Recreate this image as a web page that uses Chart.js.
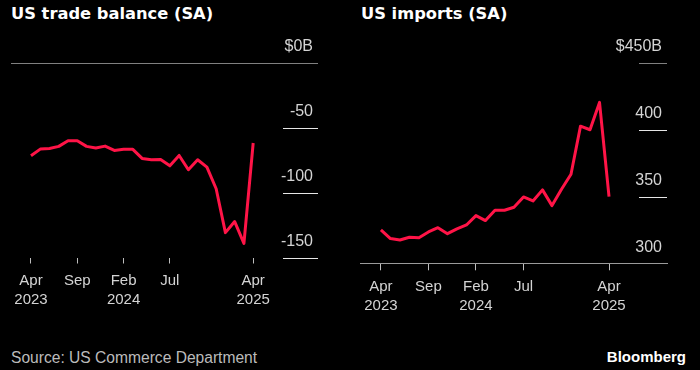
<!DOCTYPE html>
<html>
<head>
<meta charset="utf-8">
<script src="https://cdn.jsdelivr.net/npm/chart.js@4/dist/chart.umd.min.js"></script>
<style>
  body { margin: 0; background: #000; width: 700px; height: 370px; overflow: hidden; position: relative; }
  canvas { position: absolute; top: 0; }
  .title { position: absolute; top: 4px; color: #fff; font: bold 16.3px "DejaVu Sans"; line-height: 20px; }
  .src { position: absolute; left: 11px; top: 349px; color: #bbb; font: 15.6px "Liberation Sans"; line-height: 18px; }
  .brand { position: absolute; right: 14px; top: 348px; color: #fff; font: bold 15px "Liberation Sans"; line-height: 18px; }
</style>
</head>
<body>
<div class="title" style="left:11px">US trade balance (SA)</div>
<div class="title" style="left:361px">US imports (SA)</div>
<canvas id="balanceChart" width="350" height="330" style="left:0"></canvas>
<canvas id="importsChart" width="350" height="330" style="left:350px"></canvas>
<div class="src">Source: US Commerce Department</div>
<div class="brand">Bloomberg</div>
<script>
// Monthly, Apr 2023 .. Apr 2025
const months = ['2023-04','2023-05','2023-06','2023-07','2023-08','2023-09','2023-10','2023-11','2023-12',
  '2024-01','2024-02','2024-03','2024-04','2024-05','2024-06','2024-07','2024-08','2024-09','2024-10','2024-11','2024-12',
  '2025-01','2025-02','2025-03','2025-04'];

// $B, seasonally adjusted
const tradeBalance = [-71.5, -66.4, -65.9, -64.3, -59.9, -59.9, -64.3, -65.6, -64.1, -67.4, -66.6, -66.6,
  -73.6, -74.6, -74.4, -79.3, -71.3, -82.3, -74.6, -80.3, -97.0, -130.8, -122.3, -139.1, -61.7];
const imports = [325.0, 318.5, 317.5, 319.5, 319.2, 323.5, 326.7, 322.2, 325.8, 328.7, 335.7, 332.0,
  339.7, 339.7, 342.0, 349.7, 346.7, 355.0, 343.2, 355.5, 366.7, 402.7, 400.0, 420.5, 350.0];

// x tick positions (month index) and their labels
const tickMonths = [0, 5, 10, 15, 24];
const tickLabels = [['Apr', '2023'], ['Sep'], ['Feb', '2024'], ['Jul'], ['Apr', '2025']];

const balanceTicks = [-150, -100, -50, 0];
const importsTicks = [300, 350, 400, 450];

const RED = '#ff1447';
const LABEL = '#d4d4d4';

Chart.defaults.font.family = '"Liberation Sans", Arial, sans-serif';
Chart.defaults.font.size = 15;
Chart.defaults.color = LABEL;

// short gridline stubs at the right edge, Bloomberg style
const shortGrid = {
  id: 'shortGrid',
  beforeDatasetsDraw(chart, args, opts) {
    const s = chart.scales.y;
    const { right } = chart.chartArea;
    const ctx = chart.ctx;
    ctx.save();
    ctx.lineWidth = 1;
    s.ticks.forEach(t => {
      if (opts.skip.includes(t.value)) return;
      const y = Math.round(s.getPixelForValue(t.value)) + 0.5;
      ctx.strokeStyle = t.value === s.max ? '#808080' : '#e6e6e6';
      ctx.beginPath();
      ctx.moveTo(right - opts.len, y);
      ctx.lineTo(right, y);
      ctx.stroke();
    });
    ctx.restore();
  }
};

function makeChart(id, values, cfg) {
  return new Chart(document.getElementById(id), {
    type: 'line',
    data: {
      datasets: [{
        data: values.map((v, i) => ({ x: i, y: v })),
        borderColor: RED,
        borderWidth: 3,
        borderJoinStyle: 'round',
        pointRadius: 0,
        tension: 0
      }]
    },
    options: {
      responsive: false,
      animation: false,
      layout: { padding: cfg.padding },
      plugins: {
        legend: { display: false },
        tooltip: { enabled: false },
        shortGrid: { len: cfg.stub, skip: cfg.full }
      },
      scales: {
        x: {
          type: 'linear',
          min: cfg.xMin,
          max: cfg.xMax,
          afterFit: s => { s.height = cfg.xHeight; },
          afterBuildTicks: s => { s.ticks = tickMonths.map(v => ({ value: v })); },
          grid: { drawOnChartArea: false, drawTicks: true, tickLength: cfg.tickLen, color: '#bdbdbd' },
          border: { display: cfg.axisLine, color: '#9a9a9a' },
          ticks: {
            autoSkip: false, maxRotation: 0, padding: cfg.tickPad, color: LABEL,
            font: { size: 15, lineHeight: 1.25 },
            callback: v => tickLabels[tickMonths.indexOf(v)]
          }
        },
        y: {
          position: 'right',
          min: cfg.yMin,
          max: cfg.yMax,
          afterFit: s => { s.width = 0; },
          afterBuildTicks: s => { s.ticks = cfg.yTicks.map(v => ({ value: v })); },
          grid: {
            drawTicks: false,
            color: c => cfg.full.includes(c.tick.value) ? '#808080' : 'transparent'
          },
          border: { display: false },
          ticks: {
            mirror: true, padding: -5, labelOffset: -16, color: LABEL,
            font: { size: 16 },
            callback: cfg.fmt
          }
        }
      }
    },
    plugins: [shortGrid]
  });
}

makeChart('balanceChart', tradeBalance, {
  padding: { left: 11, right: 32, top: 63, bottom: 0 },
  xMin: -2.16, xMax: 31, xHeight: 72.5, tickLen: 6, tickPad: 8, axisLine: false,
  yMin: -150, yMax: 0, yTicks: balanceTicks, full: [0], stub: 35,
  fmt: v => v === 0 ? '$0B' : String(v)
});

makeChart('importsChart', imports, {
  padding: { left: 10, right: 33, top: 63, bottom: 0 },
  xMin: -2.2, xMax: 30.1, xHeight: 66.7, tickLen: 7, tickPad: 7, axisLine: true,
  yMin: 300, yMax: 450, yTicks: importsTicks, full: [300], stub: 28,
  fmt: v => v === 450 ? '$450B' : String(v)
});
</script>
</body>
</html>
